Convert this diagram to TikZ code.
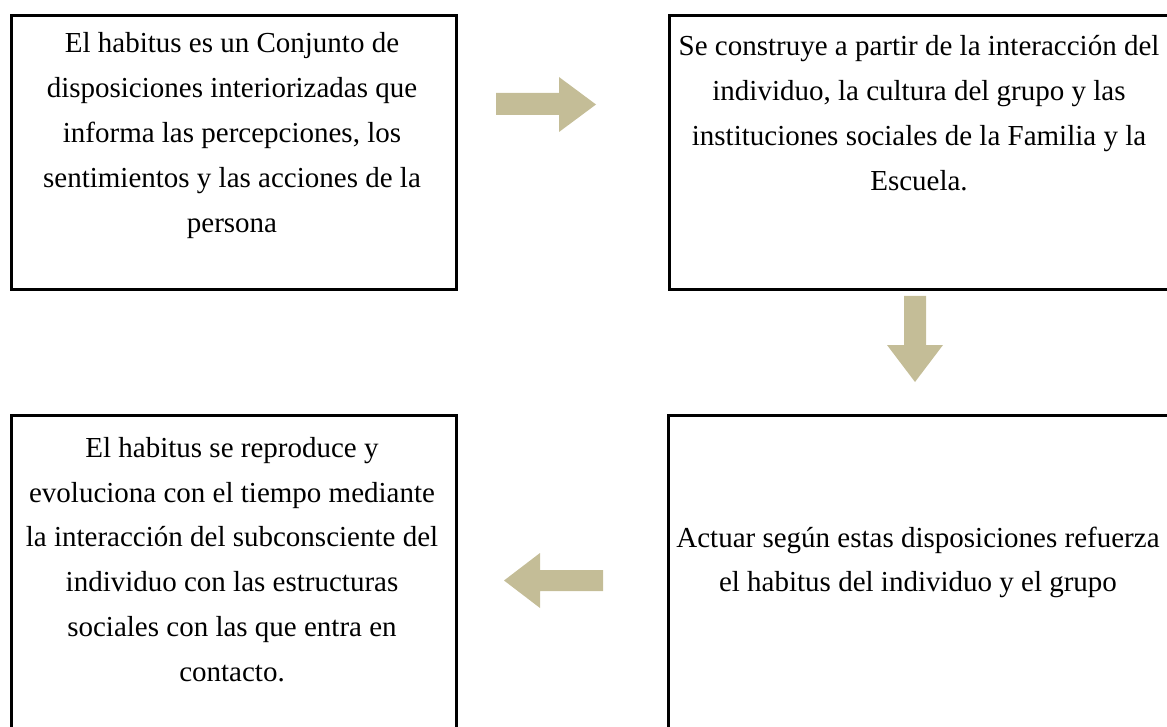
\documentclass[tikz,border=0pt]{standalone}
\usepackage{fontspec}
\setmainfont{Liberation Serif}
\definecolor{tanarrow}{RGB}{196,189,151}
\begin{document}
\begin{tikzpicture}[x=1pt,y=-1pt,
  box/.style={draw=black,line width=3pt,rectangle,inner sep=0pt,anchor=north west},
  txt/.style={align=center,font=\fontsize{29}{44.8}\selectfont,inner sep=0pt},
  blockarrow/.style={fill=tanarrow,draw=none}]
\useasboundingbox (0,0) rectangle (1167,727);
\clip (0,0) rectangle (1167,727);
% boxes
\node[box,minimum width=445.5pt,minimum height=273.5pt] (b1) at (9.5,14.5) {};
\node[box,minimum width=560pt,minimum height=273.5pt] (b2) at (668,14.5) {};
\node[box,minimum width=445.5pt,minimum height=330pt] (b4) at (9.5,414) {};
\node[box,minimum width=560pt,minimum height=330pt] (b3) at (667,414) {};
% texts
\node[txt] (t1) at (232,135.5) {El habitus es un Conjunto de\\disposiciones interiorizadas que\\informa las percepciones, los\\sentimientos y las acciones de la\\persona};
\node[txt] (t2) at (919,113) {Se construye a partir de la interacción del\\individuo, la cultura del grupo y las\\instituciones sociales de la Familia y la\\Escuela.};
\node[txt] (t3) at (918,562.5) {Actuar según estas disposiciones refuerza\\el habitus del individuo y el grupo};
\node[txt] (t4) at (232,559.5) {El habitus se reproduce y\\evoluciona con el tiempo mediante\\la interacción del subconsciente del\\individuo con las estructuras\\sociales con las que entra en\\contacto.};
% block arrows
\fill[blockarrow] (496,93) -- (559,93) -- (559,77) -- (596,104.5) -- (559,132) -- (559,115) -- (496,115) -- cycle;
\fill[blockarrow] (904,296) -- (926,296) -- (926,345) -- (943,345) -- (915,382) -- (887,345) -- (904,345) -- cycle;
\fill[blockarrow] (603,570) -- (540,570) -- (540,553) -- (504,580.5) -- (540,608) -- (540,591) -- (603,591) -- cycle;
\end{tikzpicture}
\end{document}
